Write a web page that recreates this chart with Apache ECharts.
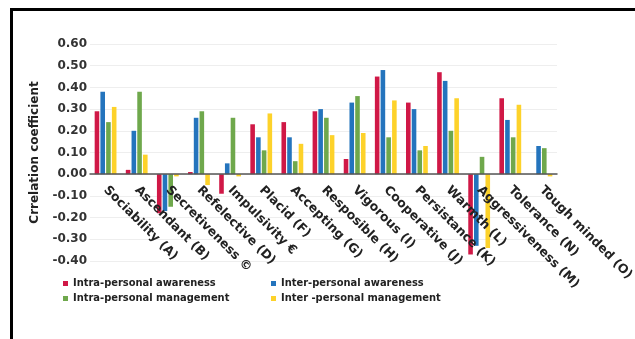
<!DOCTYPE html>
<html>
<head>
<meta charset="utf-8">
<style>
  html, body { margin: 0; padding: 0; background: #fff; overflow: hidden; }
  #frame { position: absolute; left: 10px; top: 8px; width: 625px; height: 331px;
           border-left: 3px solid #000; border-top: 3px solid #000; box-sizing: border-box; }
  #chart { position: absolute; left: 0; top: 0; width: 635px; height: 339px; }
</style>
<script src="https://cdn.jsdelivr.net/npm/echarts@6/dist/echarts.min.js"></script>
</head>
<body>
<div id="frame"></div>
<div id="chart"></div>
<script>
// Personality factors (x axis)
const categories = [
  'Sociability (A)', 'Ascendant (B)', 'Secretiveness \u00a9', 'Refelective (D)',
  'Impulsivity \u20ac', 'Placid (F)', 'Accepting (G)', 'Resposible (H)',
  'Vigorous (I)', 'Cooperative (J)', 'Persistance (K)', 'Warmth (L)',
  'Aggressiveness (M)', 'Tolerance (N)', 'Tough minded (O)'
];

// Correlation coefficients per emotional-intelligence dimension
const intraAwareness   = [0.29, 0.02, -0.18, 0.01, -0.09, 0.23, 0.24, 0.29, 0.07, 0.45, 0.33, 0.47, -0.37, 0.35, 0.00];
const interAwareness   = [0.38, 0.20, -0.17, 0.26, 0.05, 0.17, 0.17, 0.30, 0.33, 0.48, 0.30, 0.43, -0.33, 0.25, 0.13];
const intraManagement  = [0.24, 0.38, -0.15, 0.29, 0.26, 0.11, 0.06, 0.26, 0.36, 0.17, 0.11, 0.20, 0.08, 0.17, 0.12];
const interManagement  = [0.31, 0.09, -0.01, -0.05, -0.01, 0.28, 0.14, 0.18, 0.19, 0.34, 0.13, 0.35, -0.34, 0.32, -0.01];

const seriesNames = [
  'Intra-personal awareness', 'Inter-personal awareness',
  'Intra-personal management', 'Inter -personal management'
];
const seriesData = [intraAwareness, interAwareness, intraManagement, interManagement];
const colors = ['#d01846', '#2474bd', '#6fa84c', '#fdd22a'];

// value-axis range
const yMin = -0.4, yMax = 0.6, yStep = 0.1;

const font = 'DejaVu Sans';
const fontNarrow = 'DejaVu Sans Condensed';
const chart = echarts.init(document.getElementById('chart'), null, { renderer: 'canvas' });

const gridTop = 44, gridBottom = 78;
const gridHeight = 339 - gridTop - gridBottom;
// lift the category axis (line + labels) up to the zero line
const zeroOffset = -gridHeight * (0 - yMin) / (yMax - yMin);

const legendText = { fontFamily: fontNarrow, fontWeight: 'bold', fontSize: 11, color: '#222' };

chart.setOption({
  animation: false,
  color: colors,
  grid: { left: 90, right: 78, top: gridTop, bottom: gridBottom, containLabel: false, outerBoundsMode: 'none' },
  legend: [
    {
      data: [seriesNames[0], seriesNames[2]], orient: 'vertical',
      left: 63, top: 278, itemWidth: 5, itemHeight: 5, itemGap: 4,
      icon: 'rect', textStyle: legendText, padding: 0
    },
    {
      data: [seriesNames[1], seriesNames[3]], orient: 'vertical',
      left: 271, top: 278, itemWidth: 5, itemHeight: 5, itemGap: 4,
      icon: 'rect', textStyle: legendText, padding: 0
    }
  ],
  xAxis: {
    type: 'category',
    data: categories,
    z: 5,
    offset: zeroOffset,
    axisLine: { onZero: false, lineStyle: { color: '#555', width: 1.5 } },
    axisTick: { show: false },
    axisLabel: {
      interval: 0, rotate: -45, margin: 14, hideOverlap: false,
      fontFamily: font, fontWeight: 'bold', fontSize: 12.5, color: '#222'
    }
  },
  yAxis: {
    type: 'value',
    min: yMin, max: yMax, interval: yStep,
    name: 'Crrelation coefficient',
    nameLocation: 'middle', nameGap: 49, nameRotate: 90,
    nameTextStyle: { fontFamily: font, fontWeight: 'bold', fontSize: 12, color: '#222' },
    axisLine: { show: false },
    axisTick: { show: false },
    axisLabel: {
      margin: 3,
      fontFamily: font, fontWeight: 'bold', fontSize: 12, color: '#333',
      formatter: v => v.toFixed(2)
    },
    splitLine: { lineStyle: { color: '#eeeeee', width: 1 } }
  },
  series: seriesData.map((d, i) => ({
    name: seriesNames[i],
    type: 'bar',
    data: d,
    barGap: '25%',
    barCategoryGap: '30%',
    itemStyle: { color: colors[i] }
  }))
});
</script>
</body>
</html>
